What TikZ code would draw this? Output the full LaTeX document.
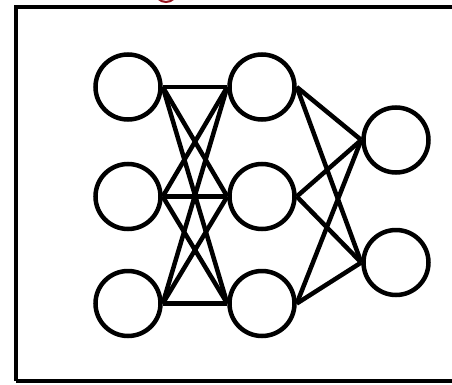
\documentclass[tikz,border=0pt]{standalone}
\begin{document}
\begin{tikzpicture}[x=1pt,y=1pt,
  neuron/.style={circle,draw=black,line width=4.5pt,minimum size=65pt,inner sep=0pt,fill=white},
  conn/.style={line width=4.5pt,black},
  frame/.style={line width=4.5pt,black}]
\useasboundingbox (0,0) rectangle (452,384);
\begin{scope}
\clip (0,0) rectangle (452,384);
\draw[frame] (16,3) -- (16,377) -- (470,377);
\draw[frame] (16,3) -- (470,3);
\draw[line width=2pt,color={rgb,255:red,150;green,20;blue,30}] (166,393) circle (11);
\end{scope}
\node[neuron] (a1) at (128,297) {};
\node[neuron] (a2) at (128,187.5) {};
\node[neuron] (a3) at (128,80.5) {};
\node[neuron] (b1) at (262,297) {};
\node[neuron] (b2) at (262,187.5) {};
\node[neuron] (b3) at (262,80.5) {};
\node[neuron] (o1) at (396,244) {};
\node[neuron] (o2) at (396,121.5) {};
\foreach \i in {1,2,3}{
  \foreach \j in {1,2,3}{
    \draw[conn] (a\i.east) -- (b\j.west);
  }
  \foreach \k in {1,2}{
    \draw[conn] (b\i.east) -- (o\k.west);
  }
}
\end{tikzpicture}
\end{document}
